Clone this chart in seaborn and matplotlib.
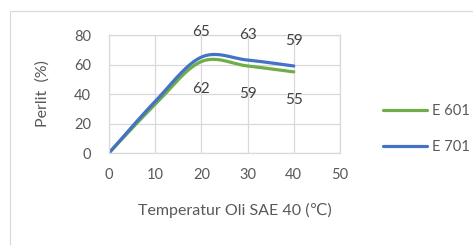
import numpy as np
import pandas as pd
import matplotlib
matplotlib.use("Agg")
import matplotlib.pyplot as plt
import seaborn as sns
from matplotlib.patches import Rectangle

# data
suhu = [0, 10, 20, 30, 40]
e601 = [0, 33, 62, 59, 55]
e701 = [0, 35, 65, 63, 59]
seri = ["E 601", "E 701"]
warna = {"E 601": "#70AD47", "E 701": "#4472C4"}

sns.set_theme(style="white")
plt.rcParams["font.family"] = ["Lato", "DejaVu Sans"]


def smooth(x, y, n=40):
    # Excel-style smoothed line (cubic bezier, catmull-rom tangents)
    p = np.column_stack([x, y]).astype(float)
    out = []
    for i in range(len(p) - 1):
        p0 = p[i - 1] if i > 0 else p[i]
        p3 = p[i + 2] if i + 2 < len(p) else p[i + 1]
        c1 = p[i] + (p[i + 1] - p0) / 6
        c2 = p[i + 1] - (p3 - p[i]) / 6
        t = np.linspace(0, 1, n)[:, None]
        seg = ((1 - t) ** 3 * p[i] + 3 * (1 - t) ** 2 * t * c1
               + 3 * (1 - t) * t ** 2 * c2 + t ** 3 * p[i + 1])
        out.append(seg if i == 0 else seg[1:])
    return np.vstack(out)


fig = plt.figure(figsize=(4.73, 2.45), dpi=100)
ax = fig.add_axes([0.2304, 0.3755, 0.4884, 0.4816])

for nama, vals in zip(seri, [e601, e701]):
    s = smooth(suhu, vals)
    sns.lineplot(x=s[:, 0], y=s[:, 1], sort=False, estimator=None,
                 color=warna[nama], lw=2.3, ax=ax, label=nama)

ax.set_xlim(0, 50)
ax.set_ylim(0, 80)
ax.set_xticks(range(0, 51, 10))
ax.set_yticks(range(0, 81, 20))
ax.grid(True, color="#D9D9D9", lw=0.9)
for sp in ax.spines.values():
    sp.set_color("#D9D9D9")
    sp.set_linewidth(0.9)
ax.tick_params(length=0, labelsize=10.5, labelcolor="#595959")
ax.tick_params(axis="y", pad=13)
ax.tick_params(axis="x", pad=11)

ax.set_xlabel("Temperatur Oli SAE 40 (\u2103)", fontsize=11.5, color="#595959")
ax.xaxis.set_label_coords(0.545, -0.42)
ax.set_ylabel("Perlit  (%)", fontsize=11.5, color="#595959")
ax.yaxis.set_label_coords(-0.255, 0.5)

# data labels (only at 20, 30, 40)
for xi, a, b in zip(suhu[2:], e701[2:], e601[2:]):
    ax.annotate(str(a), (xi, a), xytext=(0, 18), textcoords="offset points",
                ha="center", va="center", fontsize=11, color="#404040")
    ax.annotate(str(b), (xi, b), xytext=(0, -20), textcoords="offset points",
                ha="center", va="center", fontsize=11, color="#404040")

leg = ax.legend(loc="center left", bbox_to_anchor=(0.782, 0.472),
                bbox_transform=fig.transFigure, frameon=False,
                fontsize=10.5, handlelength=3.0, handletextpad=0.35,
                labelspacing=1.5)
for t in leg.get_texts():
    t.set_color("#595959")

# chart-area border (left and top edges visible)
fig.add_artist(Rectangle((10 / 473, -0.2), 1.2, 1.2 - 11 / 245,
                         transform=fig.transFigure, fill=False,
                         ec="#D9D9D9", lw=0.9))

fig.savefig("out.png", dpi=100, facecolor="white")
